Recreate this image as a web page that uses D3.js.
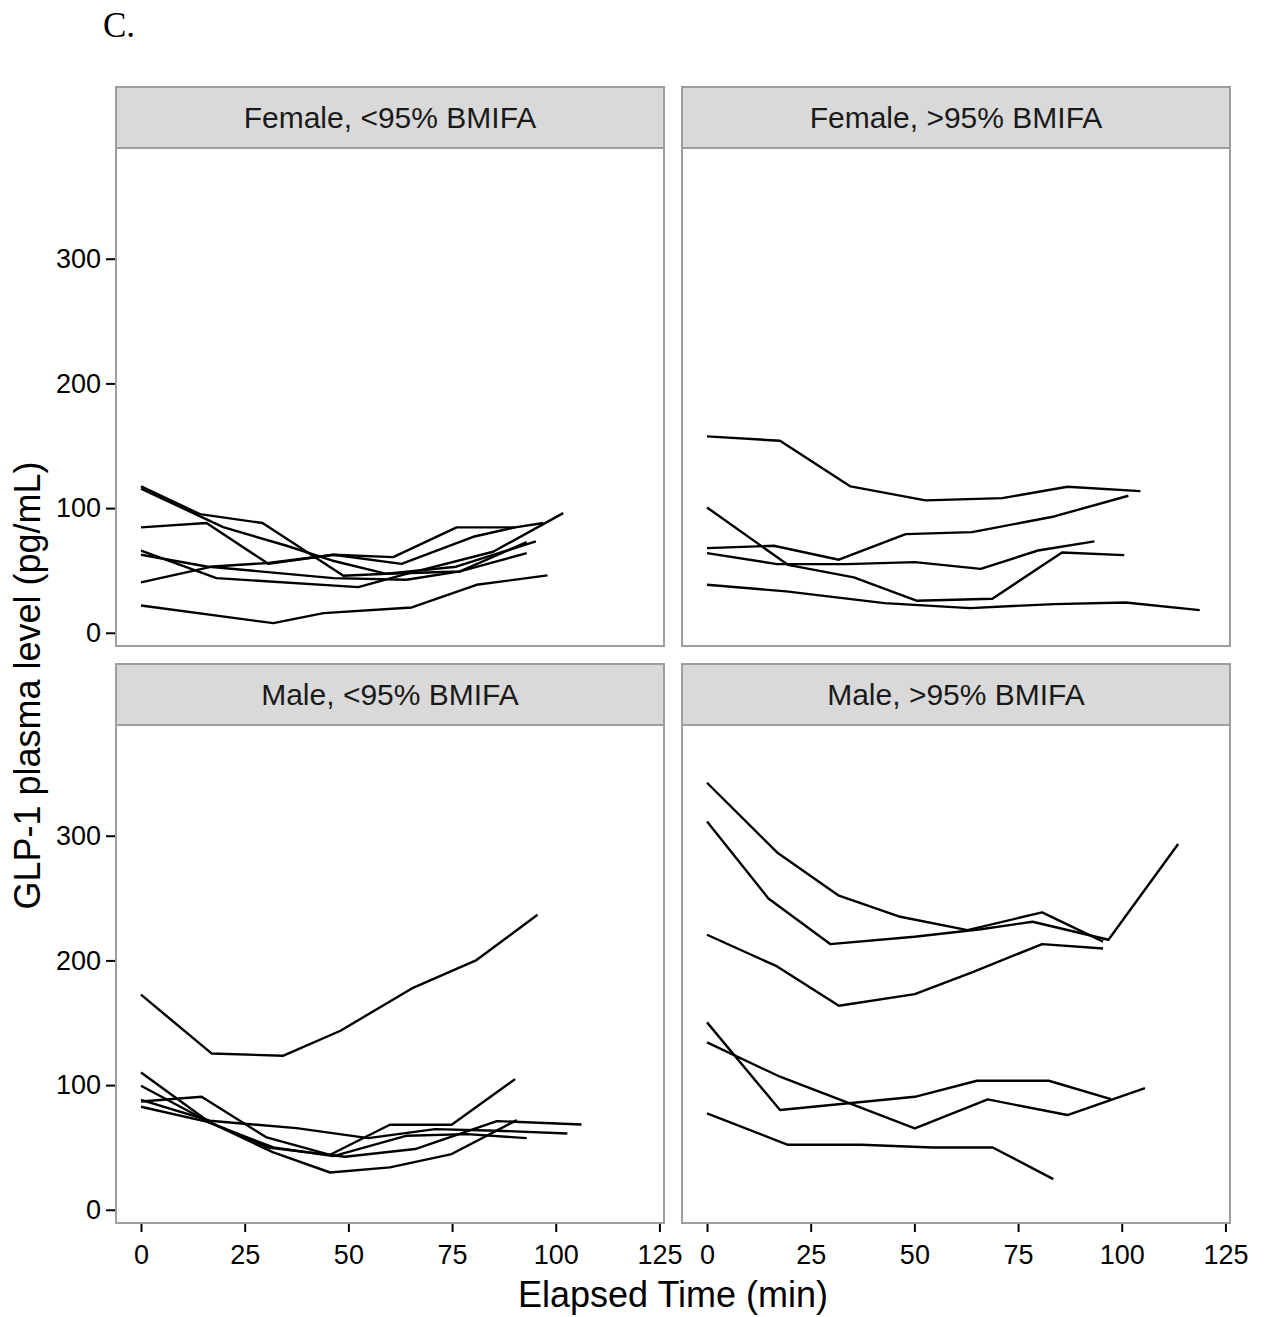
<!DOCTYPE html>
<html>
<head>
<meta charset="utf-8">
<script src="https://cdn.jsdelivr.net/npm/d3@7"></script>
<style>
  body { margin: 0; background: #fff; }
  svg text { font-family: "Liberation Sans", Arial, sans-serif; }
</style>
</head>
<body>
<div id="chart"></div>
<script>
// facet labels, in the order they are drawn (row by row)
var panelLabels = ["Female, <95% BMIFA", "Female, >95% BMIFA", "Male, <95% BMIFA", "Male, >95% BMIFA"];

var xTicks = [0, 25, 50, 75, 100, 125];
var yTicks = [0, 100, 200, 300];

// one list per subject: [elapsed min, GLP-1 pg/mL]
var femaleLow = [
    [[0,117.4],[14.2,95.2],[29.3,88.0],[48.8,45.7],[59.2,47.3],[76.9,49.2],[93,72.7]],
    [[0,115.5],[19.8,84.8],[35.1,69.8],[46,58],[59.2,47.3],[76,53],[95.2,73.3]],
    [[0,84.5],[15.8,88.0],[30.7,55.3],[46.4,62.6],[60.8,60.7],[76.1,84.5],[90.2,84.5],[97.0,88.0]],
    [[0,65.8],[18.2,43.8],[52.4,36.6],[64,47.3],[84.9,65],[101.8,96]],
    [[0,62.6],[15.8,53.2],[46.4,43.8],[64,42.5],[76.9,49.2],[93,63.9]],
    [[0,40.4],[17.4,53.2],[30.7,56],[46.4,62.6],[62.8,55.3],[80.1,77],[90.2,84.5]],
    [[0,21.9],[31.9,7.7],[44,15.8],[65.3,20.3],[80.9,38.5],[98,46.0]]
];

var femaleHigh = [
    [[0,157.5],[17.6,154],[34.6,117.4],[52.7,106.2],[71.2,108],[86.9,117.1],[104.5,113.6]],
    [[0,100.5],[19.5,54.5],[35.4,44.4],[50.5,25.7],[68.8,27.3],[85.6,64.4],[100.6,62.3]],
    [[0,67.9],[16.1,69.8],[31.8,58.6],[47.9,79.1],[63.9,80.7],[83.7,93.3],[101.6,109.9]],
    [[0,63.9],[16.9,55.1],[33.7,55.1],[50.1,56.7],[66.0,51.3],[79.8,66.0],[93.4,73.3]],
    [[0,38.5],[19.1,33.2],[42.8,23.8],[63.4,19.8],[83.7,23.0],[100.9,24.3],[118.8,18.2]]
];

var maleLow = [
    [[0,172.5],[17.0,125.4],[34.2,123.5],[48.1,143.6],[65.3,177.5],[80.9,200.3],[95.6,236.6]],
    [[0,86.9],[14.6,90.6],[30.3,58.0],[45.6,44.1],[60.0,68.2],[74.9,68.2],[90.2,104.8]],
    [[0,110.1],[16.6,70.0],[31.9,46.0],[45.6,29.9],[60.0,34.0],[74.9,44.7],[90.6,71.9]],
    [[0,99.5],[15.8,71.4],[30.7,50.0],[49.2,42.5],[66.1,48.7],[85.8,71.1],[106.2,68.4]],
    [[0,88.2],[16.6,71.4],[37.5,65.5],[54.8,57.5],[70.9,64.7],[85.8,63.4],[102.8,61.2]],
    [[0,82.6],[15.8,70.7],[31.9,50.0],[46.4,43.0],[64.1,59.4],[78.6,60.7],[93.0,57.5]]
];

var maleHigh = [
    [[0,342.5],[16.9,286.6],[31.8,251.9],[46.6,235.0],[62.8,224.3],[80.8,238.5],[95.5,215.0]],
    [[0,311.5],[14.8,249.7],[29.7,213.1],[50,219],[66,225],[78.5,231.0],[96.8,216.6],[113.6,293.3]],
    [[0,220.6],[16.9,195.2],[31.8,163.6],[50.1,173.0],[63.9,190.4],[80.8,213.1],[95.5,209.6]],
    [[0,150.3],[17.6,80.0],[50.1,90.6],[65.1,103.5],[82.4,103.5],[97.4,88.8]],
    [[0,134.2],[17.6,106.7],[50.1,65.2],[67.7,88.5],[86.9,76.0],[105.6,97.6]],
    [[0,77.3],[19.5,52.1],[37.2,52.1],[54.4,50.0],[68.9,50.0],[83.5,24.6]]
];

var panelData = [femaleLow, femaleHigh, maleLow, maleHigh];

var W = 1268, H = 1317;
var colLeft = [116, 682], panelW = 548;
var rowTop = [87, 664], stripH = 61, bodyH = 498;

var svg = d3.select("#chart").append("svg")
    .attr("width", W)
    .attr("height", H);

// figure tag
svg.append("text")
    .attr("x", 103)
    .attr("y", 37)
    .style("font-family", "'Liberation Serif', 'Times New Roman', serif")
    .style("font-size", "35px")
    .text("C.");

var x = d3.scaleLinear().domain([-6.03, 126.1]).range([0, panelW]);
var y = d3.scaleLinear().domain([-10.6, 388.8]).range([bodyH, 0]);

var line = d3.line()
    .x(function(d) { return x(d[0]); })
    .y(function(d) { return y(d[1]); });

panelData.forEach(function(subjects, i) {
    var col = i % 2, row = Math.floor(i / 2);
    var g = svg.append("g")
        .attr("transform", "translate(" + colLeft[col] + "," + rowTop[row] + ")");

    // strip
    g.append("rect")
        .attr("x", 0).attr("y", 0)
        .attr("width", panelW).attr("height", stripH)
        .attr("fill", "#d9d9d9")
        .attr("stroke", "#9e9e9e")
        .attr("stroke-width", 2);
    g.append("text")
        .attr("x", panelW / 2)
        .attr("y", stripH / 2 + 10)
        .attr("text-anchor", "middle")
        .style("font-size", "30px")
        .attr("fill", "#1a1a1a")
        .text(panelLabels[i]);

    var body = g.append("g").attr("transform", "translate(0," + stripH + ")");

    body.append("rect")
        .attr("width", panelW).attr("height", bodyH)
        .attr("fill", "#fff");

    body.selectAll(".subject")
        .data(subjects)
        .enter()
        .append("path")
            .attr("class", "subject")
            .attr("d", line)
            .attr("fill", "none")
            .attr("stroke", "#000")
            .attr("stroke-width", 2.4)
            .attr("stroke-linejoin", "round");

    body.append("rect")
        .attr("width", panelW).attr("height", bodyH)
        .attr("fill", "none")
        .attr("stroke", "#9e9e9e")
        .attr("stroke-width", 2);

    // y axis only on the left column
    if (col === 0) {
        var ya = body.append("g")
            .attr("transform", "translate(-1,0)")
            .call(d3.axisLeft(y).tickValues(yTicks).tickSize(9).tickPadding(5));
        ya.select(".domain").remove();
        ya.selectAll("line").attr("stroke", "#000").attr("stroke-width", 2);
        ya.selectAll("text").style("font-size", "27px").attr("fill", "#000")
            .style("font-family", "'Liberation Sans', Arial, sans-serif");
    }
    // x axis only on the bottom row
    if (row === 1) {
        var xa = body.append("g")
            .attr("transform", "translate(0," + (bodyH + 1) + ")")
            .call(d3.axisBottom(x).tickValues(xTicks).tickSize(8).tickPadding(13));
        xa.select(".domain").remove();
        xa.selectAll("line").attr("stroke", "#000").attr("stroke-width", 2);
        xa.selectAll("text").style("font-size", "27px").attr("fill", "#000")
            .style("font-family", "'Liberation Sans', Arial, sans-serif");
    }
});

// axis titles
svg.append("text")
    .attr("x", (colLeft[0] + colLeft[1] + panelW) / 2)
    .attr("y", 1307)
    .attr("text-anchor", "middle")
    .style("font-size", "36px")
    .text("Elapsed Time (min)");

// centred on the panel bodies, below the first strip
svg.append("text")
    .attr("transform", "translate(40," + ((rowTop[0] + stripH + rowTop[1] + stripH + bodyH) / 2) + ") rotate(-90)")
    .attr("text-anchor", "middle")
    .style("font-size", "36px")
    .text("GLP-1 plasma level (pg/mL)");
</script>
</body>
</html>
